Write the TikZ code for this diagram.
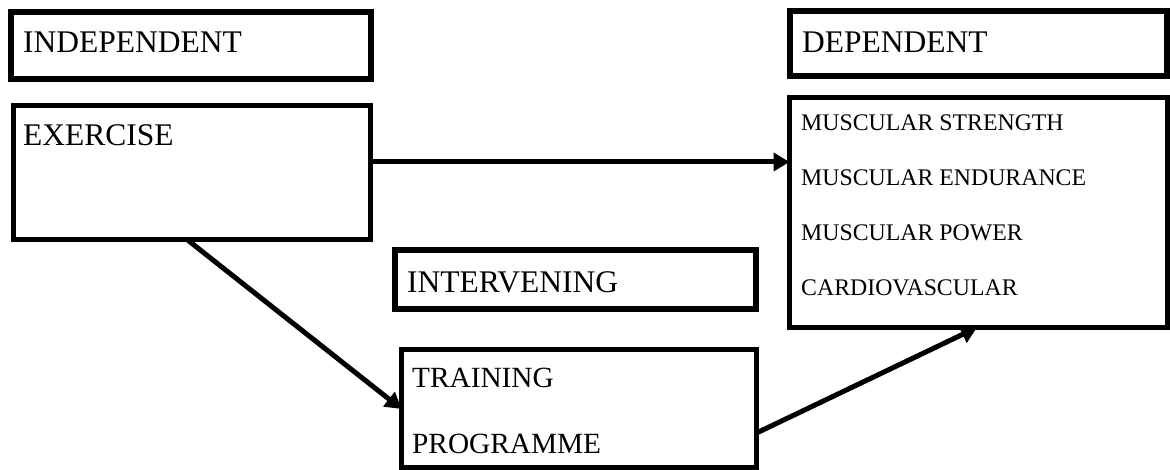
\documentclass[tikz,border=0pt]{standalone}
\usepackage{fontspec}
\setmainfont{Liberation Serif}
\usetikzlibrary{arrows.meta}
\tikzset{
  box/.style={draw=black, rectangle, inner sep=0pt, outer sep=0pt},
  headbox/.style={box, line width=6pt},
  bodybox/.style={box, line width=5pt},
  lbl/.style={anchor=base west, inner sep=0pt, font=\fontsize{31.5}{31.5}\selectfont},
  lblmid/.style={anchor=base west, inner sep=0pt, font=\fontsize{29.3}{29.3}\selectfont},
  lblsmall/.style={anchor=base west, inner sep=0pt, font=\fontsize{23.8}{23.8}\selectfont},
  arr/.style={line width=5pt, -{Triangle[length=16pt,width=18pt]}}
}
\begin{document}
\begin{tikzpicture}[x=1pt,y=-1pt]
\useasboundingbox (0,0) rectangle (1170,470);
% boxes
\node[headbox, minimum width=360pt, minimum height=67pt] (ind) at (191,45.5) {};
\node[bodybox, minimum width=357pt, minimum height=134pt] (ex) at (192,172.5) {};
\node[headbox, minimum width=377pt, minimum height=65pt] (dep) at (978.5,43.5) {};
\node[bodybox, minimum width=378pt, minimum height=230pt] (res) at (978.5,212.5) {};
\node[headbox, minimum width=361pt, minimum height=59pt] (int) at (575.5,279.5) {};
\node[bodybox, minimum width=355pt, minimum height=118pt] (tr) at (579,408.5) {};
% texts
\node[lbl] (tind) at (23,53) {INDEPENDENT};
\node[lbl] (tex) at (23,146) {EXERCISE};
\node[lbl] (tdep) at (802,53) {DEPENDENT};
\node[lblsmall] (t1) at (801,131) {MUSCULAR STRENGTH};
\node[lblsmall] (t2) at (801,186) {MUSCULAR ENDURANCE};
\node[lblsmall] (t3) at (801,241) {MUSCULAR POWER};
\node[lblsmall] (t4) at (801,296) {CARDIOVASCULAR};
\node[lbl] (tint) at (407,293) {INTERVENING};
\node[lblmid] (ttr1) at (412,387) {TRAINING};
\node[lblmid] (ttr2) at (412,453) {PROGRAMME};
% connectors
\draw[arr] (ex.east |- 0,162) -- (res.west |- 0,162);
\draw[arr] (ex.south -| 187,0) -- (tr.west |- 0,409);
\draw[arr] (tr.east |- 0,433) -- (res.south -| 977,0);
\end{tikzpicture}
\end{document}
